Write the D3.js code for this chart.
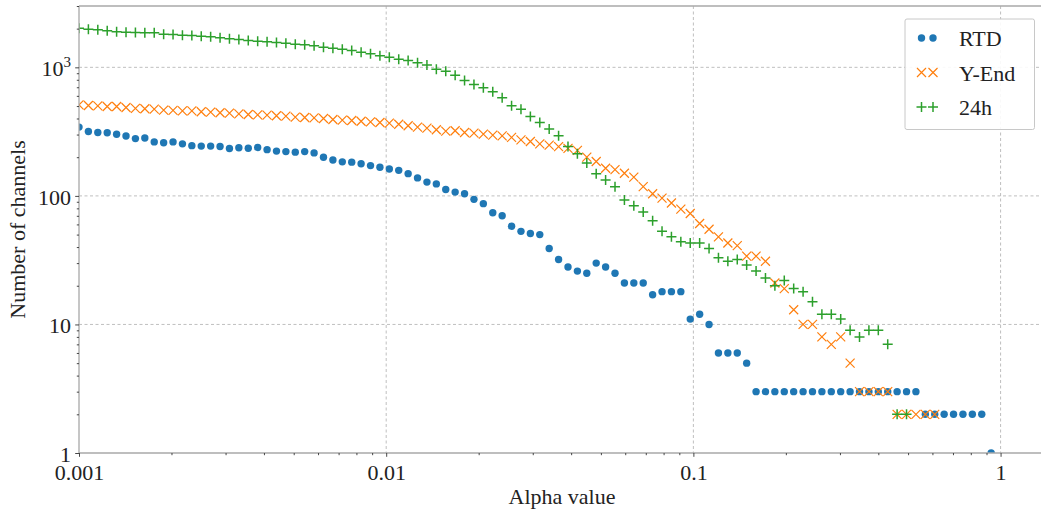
<!DOCTYPE html>
<html>
<head>
<meta charset="utf-8">
<script src="https://cdn.jsdelivr.net/npm/d3@7"></script>
<style>
  html, body { margin: 0; padding: 0; background: #fff; }
  svg { display: block; }
  text { font-family: "Liberation Serif", "Times New Roman", serif; fill: #222; }
</style>
</head>
<body>
<script>
// ---------- data ----------
const alphas = [
  0.001, 0.0010730, 0.0011514, 0.0012355, 0.0013257, 0.0014225, 0.0015264, 0.0016379, 0.0017575, 0.0018859,
  0.0020236, 0.0021714, 0.0023300, 0.0025001, 0.0026827, 0.0028786, 0.0030888, 0.0033144, 0.0035565, 0.0038162,
  0.0040949, 0.0043940, 0.0047149, 0.0050592, 0.0054287, 0.0058251, 0.0062505, 0.0067070, 0.0071969, 0.0077224,
  0.0082864, 0.0088916, 0.0095409, 0.010238, 0.010985, 0.011788, 0.012649, 0.013572, 0.014564, 0.015627,
  0.016768, 0.017993, 0.019307, 0.020717, 0.022230, 0.023853, 0.025595, 0.027464, 0.029470, 0.031623,
  0.033932, 0.036410, 0.039069, 0.041922, 0.044984, 0.048269, 0.051795, 0.055577, 0.059636, 0.063991,
  0.068665, 0.073680, 0.079060, 0.084834, 0.091030, 0.097678, 0.10481, 0.11247, 0.12068, 0.12949,
  0.13895, 0.14910, 0.15999, 0.17167, 0.18421, 0.19766, 0.21210, 0.22758, 0.24421, 0.26204,
  0.28118, 0.30171, 0.32375, 0.34739, 0.37276, 0.39998, 0.42919, 0.46054, 0.49417, 0.53026,
  0.56899, 0.61054, 0.65513, 0.70297, 0.75431, 0.80940, 0.86851, 0.93194, 1.0
];

const rtd = [
  343, 317, 311, 310, 302, 292, 279, 282, 263, 259,
  263, 254, 246, 244, 244, 242, 234, 237, 235, 238,
  229, 223, 221, 219, 221, 216, 200, 190, 184, 183,
  178, 172, 167, 162, 158, 149, 138, 128, 124, 112,
  107, 104, 94, 87, 74, 70, 58, 53, 51, 50,
  39, 32, 28, 26, 25, 30, 28, 25, 21, 21,
  21, 17, 18, 18, 18, 11, 12, 10, 6, 6,
  6, 5, 3, 3, 3, 3, 3, 3, 3, 3,
  3, 3, 3, 3, 3, 3, 3, 3, 3, 3,
  2, 2, 2, 2, 2, 2, 2, 1, null
];

const yEnd = [
  511, 505, 502, 496, 496, 487, 479, 476, 473, 465,
  462, 459, 459, 451, 448, 443, 440, 435, 430, 427,
  425, 420, 417, 410, 407, 405, 400, 393, 388, 386,
  381, 377, 372, 368, 361, 351, 343, 337, 327, 319,
  321, 311, 308, 302, 297, 293, 285, 273, 265, 254,
  248, 242, 234, 226, 200, 185, 164, 160, 150, 140,
  118, 104, 96, 88, 79, 73, 61, 55, 48, 43,
  41, 34, 34, 31, 21, 19, 13, 10, 10, 8,
  7, 8, 5, 3, 3, 3, 3, 2, 2, 2,
  2, 2, null, null, null, null, null, null, null
];

const h24 = [
  2016, 1981, 1957, 1922, 1888, 1877, 1866, 1855, 1860, 1811,
  1800, 1779, 1768, 1747, 1727, 1696, 1666, 1646, 1617, 1598,
  1579, 1560, 1542, 1514, 1496, 1470, 1435, 1410, 1385, 1352,
  1312, 1274, 1228, 1200, 1157, 1130, 1084, 1045, 967, 934,
  869, 790, 735, 693, 645, 579, 502, 473, 415, 372,
  331, 293, 242, 213, 180, 149, 133, 118, 93, 84,
  75, 64, 53, 48, 44, 43, 43, 39, 33, 31,
  32, 29, 26, 23, 20, 22, 19, 18, 15, 12,
  12, 11, 9, 8, 9, 9, 7, 2, 2, null,
  null, null, null, null, null, null, null, null, null
];

const seriesNames = ["RTD", "Y-End", "24h"];
const seriesColors = ["#1f77b4", "#ff7f0e", "#2ca02c"];

const xTickValues = [0.001, 0.01, 0.1, 1];
const xTickLabels = ["0.001", "0.01", "0.1", "1"];
const yTickValues = [1, 10, 100, 1000];
const yTickLabels = ["1", "10", "100", "10^3"];
const xDomain = [0.001, 1.35];
const yDomain = [1, 3000];
const xLabel = "Alpha value";
const yLabel = "Number of channels";

(function () {
// ---------- layout ----------
const W = 1041, H = 512;
const pL = 79, pR = 1040.6, pT = 6, pB = 453;
const FS = 22;

const svg = d3.select("body").append("svg").attr("width", W).attr("height", H);

const x = d3.scaleLog().domain(xDomain).range([pL, pR]);
const y = d3.scaleLog().domain(yDomain).range([pB, pT]);

function minorTicks(domain, majors) {
  const out = [];
  majors.forEach(m => { for (let k = 2; k <= 9; k++) { const v = m * k; if (v > domain[0] && v <= domain[1]) out.push(v); } });
  return out;
}
const xMinor = minorTicks(xDomain, xTickValues);
const yMinor = minorTicks(yDomain, yTickValues);

// grid
const grid = svg.append("g").attr("stroke", "#b8b8b8").attr("stroke-width", 0.9).attr("stroke-dasharray", "3,2.5");
grid.selectAll(".gx").data(xTickValues.filter(v => v > xDomain[0])).join("line")
  .attr("x1", d => x(d)).attr("x2", d => x(d)).attr("y1", pT).attr("y2", pB);
grid.selectAll(".gy").data(yTickValues.filter(v => v > yDomain[0])).join("line")
  .attr("x1", pL).attr("x2", W).attr("y1", d => y(d)).attr("y2", d => y(d));

// clip
svg.append("clipPath").attr("id", "plotclip").append("rect")
  .attr("x", pL).attr("y", pT).attr("width", W - pL).attr("height", pB - pT);

const plot = svg.append("g").attr("clip-path", "url(#plotclip)");
const pts = arr => alphas.map((a, i) => ({ a, v: arr[i] })).filter(d => d.v != null);

const crossPath = "M-4.5,-4.5L4.5,4.5M-4.5,4.5L4.5,-4.5";
const plusPath = "M-5,0H5M0,-5V5";

function drawCircle(sel, color) { sel.attr("r", 3.7).attr("fill", color); }

plot.append("g").selectAll("circle").data(pts(rtd)).join("circle")
  .attr("cx", d => x(d.a)).attr("cy", d => y(d.v)).call(drawCircle, seriesColors[0]);
plot.append("g").selectAll("path").data(pts(yEnd)).join("path")
  .attr("d", crossPath).attr("transform", d => `translate(${x(d.a)},${y(d.v)})`)
  .attr("fill", "none").attr("stroke", seriesColors[1]).attr("stroke-width", 1.2);
plot.append("g").selectAll("path").data(pts(h24)).join("path")
  .attr("d", plusPath).attr("transform", d => `translate(${x(d.a)},${y(d.v)})`)
  .attr("fill", "none").attr("stroke", seriesColors[2]).attr("stroke-width", 1.5);

// spines
const spines = svg.append("g").attr("stroke", "#a8a8a8").attr("stroke-width", 1.3);
spines.append("line").attr("x1", pL).attr("x2", pL).attr("y1", pT).attr("y2", pB);
spines.append("line").attr("x1", pL).attr("x2", W).attr("y1", pB).attr("y2", pB);
spines.append("line").attr("x1", pL).attr("x2", W).attr("y1", pT).attr("y2", pT);

// axes
function styleAxis(g) {
  g.select(".domain").remove();
  g.selectAll(".tick line").attr("stroke", "#333").attr("stroke-width", 0.9);
}
svg.append("g").attr("transform", `translate(0,${pB})`)
  .call(d3.axisBottom(x).tickValues(xMinor).tickFormat("").tickSize(2.2)).call(styleAxis);
const gx = svg.append("g").attr("transform", `translate(0,${pB})`)
  .call(d3.axisBottom(x).tickValues(xTickValues).tickFormat((d, i) => xTickLabels[i]).tickSize(3.8)).call(styleAxis);
gx.selectAll(".tick text").attr("y", 27).attr("dy", 0).attr("font-size", FS).attr("fill", "#222");

svg.append("g").attr("transform", `translate(${pL},0)`)
  .call(d3.axisLeft(y).tickValues(yMinor).tickFormat("").tickSize(2.2)).call(styleAxis);
const gy = svg.append("g").attr("transform", `translate(${pL},0)`)
  .call(d3.axisLeft(y).tickValues(yTickValues).tickFormat((d, i) => yTickLabels[i]).tickSize(3.8)).call(styleAxis);
gy.selectAll(".tick text").attr("x", -8).attr("dy", 0).attr("y", 8.5).attr("font-size", FS).attr("fill", "#222")
  .each(function () {
    const t = d3.select(this);
    const s = t.text();
    if (s.includes("^")) {
      const parts = s.split("^");
      t.text(null);
      t.append("tspan").text(parts[0]);
      t.append("tspan").attr("font-size", 15).attr("dy", -9).text(parts[1]);
    }
  });

// axis labels
svg.append("text").attr("x", 562).attr("y", 504).attr("text-anchor", "middle")
  .attr("font-size", FS).text(xLabel);
svg.append("text").attr("transform", `translate(25,${(pT + pB) / 2}) rotate(-90)`)
  .attr("text-anchor", "middle").attr("font-size", FS).text(yLabel);

// legend
const lg = svg.append("g");
lg.append("rect").attr("x", 905).attr("y", 19).attr("width", 129.5).attr("height", 110.5)
  .attr("rx", 2).attr("fill", "#fff").attr("fill-opacity", 0.9).attr("stroke", "#c8c8c8").attr("stroke-width", 1);
const rowsY = [38, 72.5, 107];
const markX = [921.5, 933];
seriesNames.forEach((name, si) => {
  const ry = rowsY[si];
  markX.forEach(mx => {
    if (si === 0) lg.append("circle").attr("cx", mx).attr("cy", ry).call(drawCircle, seriesColors[0]);
    else lg.append("path").attr("d", si === 1 ? crossPath : plusPath)
      .attr("transform", `translate(${mx},${ry})`).attr("fill", "none")
      .attr("stroke", seriesColors[si]).attr("stroke-width", si === 1 ? 1.2 : 1.5);
  });
  lg.append("text").attr("x", 959).attr("y", ry + 8).attr("font-size", FS).text(name);
});
})();
</script>
</body>
</html>
